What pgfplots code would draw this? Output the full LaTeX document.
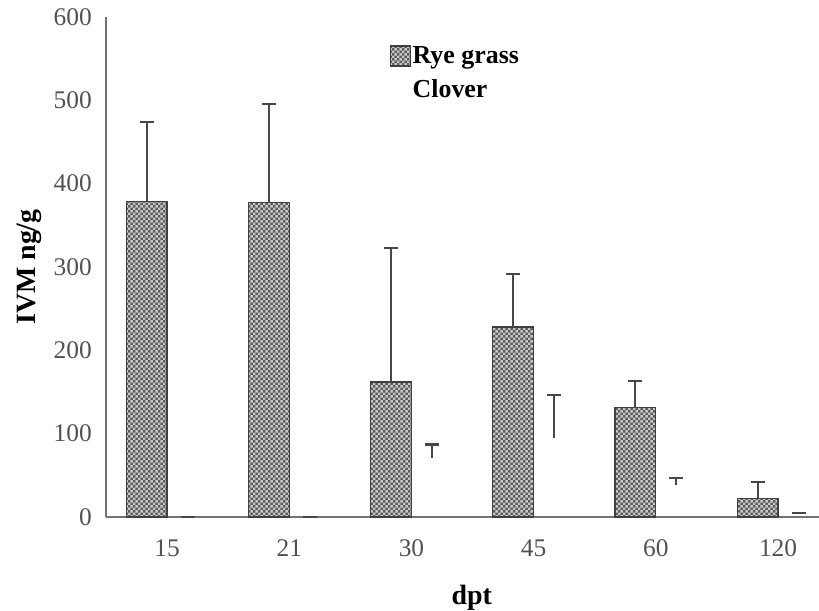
\documentclass[border=0pt]{standalone}
\usepackage{fontspec}
\setmainfont{Liberation Serif}
\usepackage{pgfplots}
\usepackage{pgfplotstable}
\pgfplotsset{compat=1.18}
\usetikzlibrary{patterns}
\pgfdeclarepatternformonly{checker}{\pgfqpoint{0pt}{0pt}}{\pgfqpoint{5.4pt}{5.4pt}}{\pgfqpoint{5.4pt}{5.4pt}}{%
  \pgfpathrectangle{\pgfqpoint{0pt}{0pt}}{\pgfqpoint{2.7pt}{2.7pt}}%
  \pgfpathrectangle{\pgfqpoint{2.7pt}{2.7pt}}{\pgfqpoint{2.7pt}{2.7pt}}%
  \pgfusepath{fill}}

\pgfplotstableread{
x y e
0 379 95
1 377 119
2 162 161
3 228 64
4 131 32
5 22 20
}\rye
\pgfplotstableread{
x y e
0 0 0
1 0 0
2 71 16
3 95 51
4 38 9
5 5 0
}\clover

\begin{document}
\begin{tikzpicture}
\useasboundingbox (-106bp,-94bp) rectangle (713bp,517bp);
\begin{axis}[
  scale only axis, width=713bp, height=500bp,
  xmin=-0.5, xmax=5.335, ymin=0, ymax=600,
  axis x line=bottom, axis y line=left,
  axis line style={-, draw=black!55, line width=1.3bp},
  xtick={0,...,5}, xticklabels={15,21,30,45,60,120},
  ytick={0,100,...,600},
  major tick length=0pt,
  /pgf/number format/assume math mode=true,
  tick label style={font=\fontsize{25.5}{30}\selectfont, text=black!68, inner sep=0pt},
  yticklabel style={anchor=east, xshift=-14bp},
  xticklabel style={anchor=center, yshift=-31bp},
  ylabel={IVM ng/g},
  ylabel style={font=\bfseries\fontsize{28}{32}\selectfont, at={(axis description cs:-0.108,0.5)}, anchor=center, inner sep=0pt},
  xlabel={dpt},
  xlabel style={font=\bfseries\fontsize{28}{32}\selectfont, at={(axis description cs:0.513,0)}, anchor=center, yshift=-81bp, inner sep=0pt},
  ybar=0pt, bar width=0.335,
  legend style={at={(axis description cs:0.398,0.944)}, anchor=north west, draw=none, fill=none,
    font=\bfseries\fontsize{26}{30}\selectfont, row sep=11bp, inner sep=0pt, nodes={inner sep=1.5bp}},
  legend cell align=left,
  legend image code/.code={\draw[#1] (0bp,-10bp) rectangle (20bp,10bp);},
  error bars/y dir=plus, error bars/y explicit,
  error bars/error bar style={line width=2bp, draw=black!72},
  error bars/error mark options={rotate=90, mark size=7bp, line width=2bp, draw=black!72},
]
\addplot[fill=black!64, draw=black!75, line width=1.2bp, postaction={pattern=checker, pattern color=black!22}]
  table[x=x, y=y, y error=e] {\rye};
\addlegendentry{Rye grass}
\addplot[fill=none, draw=none, legend image code/.code={\path (0bp,-10bp) rectangle (20bp,10bp);}]
  table[x=x, y=y, y error=e] {\clover};
\addlegendentry{Clover}
\end{axis}
\end{tikzpicture}
\end{document}
